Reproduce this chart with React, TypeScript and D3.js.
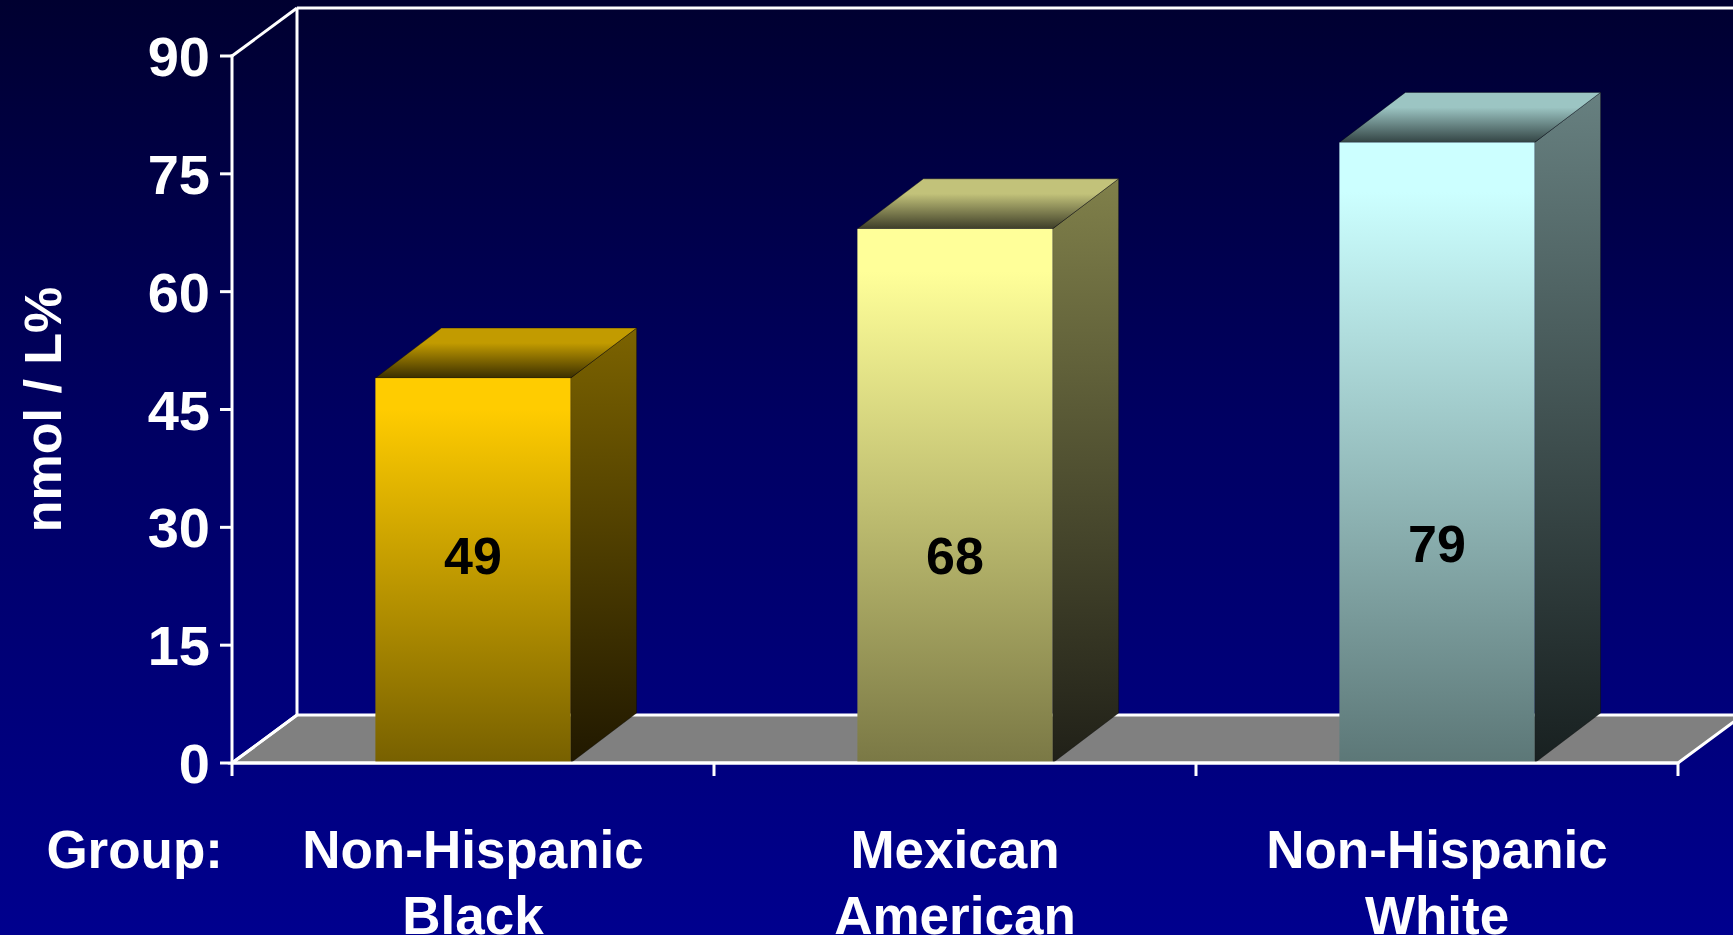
import React from "react";
import * as d3 from "d3";

const categories: string[][] = [["Non-Hispanic", "Black"], ["Mexican", "American"], ["Non-Hispanic", "White"]];
const values: number[] = [49, 68, 79];
const yTicks: number[] = [0, 15, 30, 45, 60, 75, 90];
const yTitle = "nmol / L%";
const groupLabel = "Group:";

const frontTop = ["#FFCC00", "#FFFF99", "#CCFFFF"];
const frontBottom = ["#776000", "#7A7845", "#5C7777"];
const sideTop = ["#7C6300", "#80804A", "#678080"];
const sideBottom = ["#201800", "#202018", "#182020"];
const topBack = ["#C29B00", "#C2C27A", "#9CC5C3"];
const topFront = ["#3A2E00", "#3E3E28", "#334444"];

const W = 1733;
const H = 935;

export default function App() {
  const x0 = 232;
  const x1 = 1678;
  const yBase = 763;
  const yTop = 56;
  const wdx = 65, wdy = -48; // wall depth
  const bdx = 66, bdy = -50; // bar depth

  const y = d3.scaleLinear().domain([0, 90]).range([yBase, yTop]);
  const keys = categories.map((c) => c.join(" "));
  const band = d3.scaleBand<string>().domain(keys).range([x0, x1]).paddingInner(0.595).paddingOuter(0.2975);
  const outer = d3.scaleBand<string>().domain(keys).range([x0, x1]).padding(0);

  const font = "'Liberation Sans', Arial, sans-serif";
  const line = d3.line();

  return (
    <div style={{ position: "absolute", left: 0, top: 0, width: W, height: H }}>
      <svg width={W} height={H} style={{ display: "block" }}>
        <defs>
          <linearGradient id="bg" x1="0" y1="0" x2="0" y2="1">
            <stop offset="0" stopColor="#000030" />
            <stop offset="0.45" stopColor="#000062" />
            <stop offset="1" stopColor="#00008E" />
          </linearGradient>
          {values.map((_, i) => (
            <React.Fragment key={i}>
              <linearGradient id={`front${i}`} x1="0" y1="0" x2="0" y2="1">
                <stop offset="0" stopColor={frontTop[i]} />
                <stop offset="0.08" stopColor={frontTop[i]} />
                <stop offset="1" stopColor={frontBottom[i]} />
              </linearGradient>
              <linearGradient id={`side${i}`} x1="0" y1="0" x2="0" y2="1">
                <stop offset="0" stopColor={sideTop[i]} />
                <stop offset="1" stopColor={sideBottom[i]} />
              </linearGradient>
              <linearGradient id={`top${i}`} x1="0" y1="0" x2="0" y2="1">
                <stop offset="0" stopColor={topBack[i]} />
                <stop offset="0.3" stopColor={topBack[i]} />
                <stop offset="1" stopColor={topFront[i]} />
              </linearGradient>
            </React.Fragment>
          ))}
        </defs>
        <rect x={0} y={0} width={W} height={H} fill="url(#bg)" />

        {/* back wall */}
        <line x1={x0 + wdx} y1={yTop + wdy} x2={W + 10} y2={yTop + wdy} stroke="#fff" strokeWidth={3} />
        <line x1={x0 + wdx} y1={yTop + wdy} x2={x0 + wdx} y2={yBase + wdy} stroke="#fff" strokeWidth={3} />
        <line x1={x0} y1={yTop} x2={x0 + wdx} y2={yTop + wdy} stroke="#fff" strokeWidth={3} />

        {/* floor */}
        <path
          d={line([[x0, yBase], [x1, yBase], [x1 + wdx, yBase + wdy], [x0 + wdx, yBase + wdy]])! + "Z"}
          fill="#808080"
          stroke="#fff"
          strokeWidth={3}
          strokeLinejoin="miter"
        />

        {/* bars */}
        {values.map((v, i) => {
          const bx0 = band(keys[i])!;
          const bx1 = bx0 + band.bandwidth();
          const ty = y(v);
          return (
            <g key={i}>
              <path
                d={line([[bx1, ty], [bx1 + bdx, ty + bdy], [bx1 + bdx, yBase + bdy], [bx1, yBase]])! + "Z"}
                fill={`url(#side${i})`}
                stroke="rgba(0,0,0,0.35)"
                strokeWidth={1}
              />
              <path
                d={line([[bx0, ty], [bx0 + bdx, ty + bdy], [bx1 + bdx, ty + bdy], [bx1, ty]])! + "Z"}
                fill={`url(#top${i})`}
                stroke="rgba(0,0,0,0.35)"
                strokeWidth={1}
              />
              <rect x={bx0} y={ty} width={bx1 - bx0} height={yBase - ty} fill={`url(#front${i})`} />
            </g>
          );
        })}

        {/* front axes */}
        <line x1={x0} y1={yBase} x2={x1} y2={yBase} stroke="#fff" strokeWidth={3} />
        <line x1={x0} y1={yTop - 1.5} x2={x0} y2={yBase + 13} stroke="#fff" strokeWidth={3} />
        <line x1={x0} y1={yBase} x2={x0 + wdx} y2={yBase + wdy} stroke="#fff" strokeWidth={3} />
        {yTicks.map((t) => (
          <g key={t}>
            <line x1={x0 - 12} y1={y(t)} x2={x0} y2={y(t)} stroke="#fff" strokeWidth={3} />
            <text
              x={x0 - 22}
              y={y(t)}
              dy="0.36em"
              textAnchor="end"
              fill="#fff"
              fontFamily={font}
              fontWeight="bold"
              fontSize={56}
            >
              {t}
            </text>
          </g>
        ))}
        {keys.map((k, i) => (
          <line key={k} x1={outer(k)! + outer.bandwidth()} y1={yBase} x2={outer(k)! + outer.bandwidth()} y2={yBase + 13} stroke="#fff" strokeWidth={3} />
        ))}

        {/* value labels */}
        {values.map((v, i) => {
          const cx = band(keys[i])! + band.bandwidth() / 2;
          return (
            <text
              key={i}
              x={cx}
              y={y(24) - (i === 2 ? 12 : 0)}
              textAnchor="middle"
              fill="#000"
              fontFamily={font}
              fontWeight="bold"
              fontSize={52}
            >
              {v}
            </text>
          );
        })}

        {/* category labels */}
        {categories.map((c, i) => {
          const cx = outer(keys[i])! + outer.bandwidth() / 2;
          return (
            <text key={i} x={cx} y={868} textAnchor="middle" fill="#fff" fontFamily={font} fontWeight="bold" fontSize={53}>
              {c.map((ln, j) => (
                <tspan key={j} x={cx} dy={j === 0 ? 0 : 66}>
                  {ln}
                </tspan>
              ))}
            </text>
          );
        })}
        <text x={223} y={868} textAnchor="end" fill="#fff" fontFamily={font} fontWeight="bold" fontSize={53}>
          {groupLabel}
        </text>

        {/* y title */}
        <text
          transform={`translate(61, ${(yTop + yBase) / 2}) rotate(-90)`}
          textAnchor="middle"
          fill="#fff"
          fontFamily={font}
          fontWeight="bold"
          fontSize={52}
        >
          {yTitle}
        </text>
      </svg>
    </div>
  );
}
